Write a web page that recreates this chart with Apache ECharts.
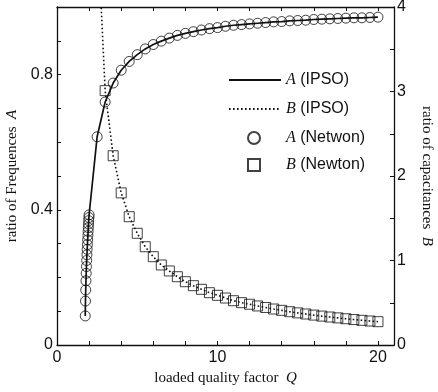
<!DOCTYPE html>
<html>
<head>
<meta charset="utf-8">
<script src="https://cdn.jsdelivr.net/npm/echarts@6/dist/echarts.min.js"></script>
<style>
  html, body { margin: 0; padding: 0; background: #fff; }
  #chart { width: 438px; height: 392px; }
</style>
</head>
<body>
<div id="chart"></div>
<script>
// Newton solution for A: dense cluster near Q ~ 1.8, then every 0.5
const qA = [1.76, 1.775, 1.79, 1.805, 1.82, 1.835, 1.85, 1.865, 1.88, 1.895, 1.91, 1.925, 1.94, 1.952, 1.964, 1.976, 1.988, 2.0,
  2.5, 3, 3.5, 4, 4.5, 5, 5.5, 6, 6.5, 7, 7.5, 8, 8.5, 9, 9.5, 10, 10.5, 11, 11.5, 12, 12.5, 13, 13.5, 14, 14.5, 15, 15.5, 16, 16.5, 17, 17.5, 18, 18.5, 19, 19.5, 20];
const aValues = [0.086, 0.130, 0.163, 0.190, 0.212, 0.232, 0.250, 0.267, 0.283, 0.297, 0.311, 0.324, 0.336, 0.347, 0.358, 0.368, 0.377, 0.385,
  0.616, 0.719, 0.775, 0.813, 0.839, 0.859, 0.876, 0.889, 0.899, 0.908, 0.916, 0.922, 0.927, 0.932, 0.936, 0.939, 0.943, 0.946, 0.948, 0.950, 0.952, 0.954, 0.956, 0.957, 0.959, 0.960, 0.961, 0.963, 0.964, 0.965, 0.966, 0.967, 0.968, 0.968, 0.969, 0.970];

// Newton solution for B (starts at Q = 3, below that it is off the chart)
const qB = [3, 3.5, 4, 4.5, 5, 5.5, 6, 6.5, 7, 7.5, 8, 8.5, 9, 9.5, 10, 10.5, 11, 11.5, 12, 12.5, 13, 13.5, 14, 14.5, 15, 15.5, 16, 16.5, 17, 17.5, 18, 18.5, 19, 19.5, 20];
const bValues = [3.01, 2.24, 1.80, 1.518, 1.322, 1.163, 1.045, 0.947, 0.876, 0.808, 0.749, 0.702, 0.659, 0.619, 0.588, 0.556, 0.524, 0.501, 0.482, 0.462, 0.444, 0.426, 0.410, 0.394, 0.380, 0.367, 0.354, 0.342, 0.331, 0.321, 0.311, 0.301, 0.292, 0.284, 0.276];

// IPSO curve for B runs up out of the top of the plot
const qBIpsoHead = [2.5, 2.75];
const bIpsoHead = [5.6, 4.02];

const xTicks = [0, 10, 20];
const yLeftTicks = [0, 0.4, 0.8];
const yRightTicks = [0, 1, 2, 3, 4];

const pairs = (xs, ys) => xs.map((x, i) => [x, ys[i]]);
const near = (v, list) => list.some(t => Math.abs(v - t) < 1e-6);

const SANS = '"Liberation Sans", Arial, sans-serif';
const SERIF = '"Liberation Serif", "Times New Roman", serif';
const INK = '#111';

const axisCommon = {
  axisLine: { show: true, onZero: false, lineStyle: { color: INK, width: 1.3 } },
  axisTick: { show: true, inside: true, length: 4, lineStyle: { color: INK, width: 1 } },
  splitLine: { show: false },
  nameTextStyle: { fontFamily: SERIF, fontSize: 15, color: INK, rich: { i: { fontFamily: SERIF, fontStyle: 'italic', fontSize: 15, color: INK } } }
};
const labelCommon = { fontFamily: SANS, fontSize: 16, color: INK };

const legendRich = {
  i: { fontFamily: SERIF, fontStyle: 'italic', fontSize: 16, color: INK },
  sp: { width: 21 }
};
const legendText = (name) => '{i|' + name.charAt(0) + '}' + name.slice(1);

const chart = echarts.init(document.getElementById('chart'));

chart.setOption({
  animation: false,
  backgroundColor: '#fff',
  grid: { left: 57, right: 44, top: 7, bottom: 47, containLabel: false, outerBoundsMode: 'none' },
  legend: [
    {
      data: ['A (IPSO)', 'B (IPSO)'],
      orient: 'vertical', left: 223, top: 67, itemGap: 13,
      itemWidth: 52, itemHeight: 14,
      itemStyle: { opacity: 0 },
      formatter: legendText,
      textStyle: { fontFamily: SANS, fontSize: 16, color: INK, rich: legendRich }
    },
    {
      data: ['A (Netwon)', 'B (Newton)'],
      orient: 'vertical', left: 242, top: 125, itemGap: 11,
      itemWidth: 12, itemHeight: 12,
      formatter: (name) => '{sp|}' + legendText(name),
      textStyle: { fontFamily: SANS, fontSize: 16, color: INK, rich: legendRich }
    }
  ],
  xAxis: [
    Object.assign({}, axisCommon, {
      type: 'value', position: 'bottom', min: 0, max: 21, interval: 2,
      name: 'loaded quality factor  {i|Q}', nameLocation: 'middle', nameGap: 24,
      axisLabel: Object.assign({}, labelCommon, { margin: 5, formatter: v => near(v, xTicks) ? String(v) : '' })
    }),
    Object.assign({}, axisCommon, {
      type: 'value', position: 'top', min: 0, max: 21, interval: 2,
      axisLabel: { show: false }
    })
  ],
  yAxis: [
    Object.assign({}, axisCommon, {
      type: 'value', position: 'left', min: 0, max: 1, interval: 0.1,
      name: 'ratio of Frequences  {i|A}', nameLocation: 'middle', nameGap: 32,
      axisLabel: Object.assign({}, labelCommon, { margin: 4, formatter: v => near(v, yLeftTicks) ? String(+v.toFixed(1)) : '' })
    }),
    Object.assign({}, axisCommon, {
      type: 'value', position: 'right', min: 0, max: 4, interval: 0.5,
      name: 'ratio of capacitances  {i|B}', nameLocation: 'middle', nameGap: 25, nameRotate: -90,
      axisLabel: Object.assign({}, labelCommon, { margin: 3, formatter: v => near(v, yRightTicks) ? String(v) : '' })
    })
  ],
  series: [
    {
      name: 'A (IPSO)', type: 'line', xAxisIndex: 0, yAxisIndex: 0,
      data: pairs(qA, aValues),
      symbol: 'none', showSymbol: false,
      lineStyle: { color: INK, width: 1.7 },
      itemStyle: { color: INK },
      z: 3
    },
    {
      name: 'B (IPSO)', type: 'line', xAxisIndex: 0, yAxisIndex: 1,
      data: pairs(qBIpsoHead.concat(qB), bIpsoHead.concat(bValues)),
      symbol: 'none', showSymbol: false,
      lineStyle: { color: INK, width: 1.6, type: [1.6, 2.4] },
      itemStyle: { color: INK },
      clip: true,
      z: 3
    },
    {
      name: 'A (Netwon)', type: 'scatter', xAxisIndex: 0, yAxisIndex: 0,
      data: pairs(qA, aValues),
      symbol: 'circle', symbolSize: 10,
      itemStyle: { color: 'rgba(0,0,0,0)', borderColor: INK, borderWidth: 1 },
      z: 4
    },
    {
      name: 'B (Newton)', type: 'scatter', xAxisIndex: 0, yAxisIndex: 1,
      data: pairs(qB, bValues),
      symbol: 'rect', symbolSize: 10,
      itemStyle: { color: 'rgba(0,0,0,0)', borderColor: INK, borderWidth: 1 },
      z: 4
    }
  ]
});
</script>
</body>
</html>
